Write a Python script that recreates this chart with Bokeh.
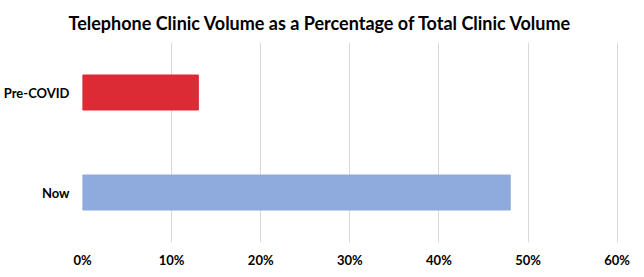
from bokeh.plotting import figure
from bokeh.models import FactorRange, Range1d, NumeralTickFormatter, FixedTicker
from bokeh.embed import file_html
from bokeh.resources import INLINE

categories = ["Now", "Pre-COVID"]
values = [0.48, 0.13]
colors = ["#8FAADC", "#DC2B35"]
x_ticks = [0, 0.1, 0.2, 0.3, 0.4, 0.5, 0.6]
title_text = "Telephone Clinic Volume as a Percentage of Total Clinic Volume"

p = figure(frame_width=536, frame_height=200, output_backend="svg", toolbar_location=None,
           y_range=FactorRange(*categories, range_padding=0),
           x_range=Range1d(0, 0.6015),
           min_border_left=80, min_border_right=12, min_border_top=36, min_border_bottom=25)

p.hbar(y=categories, right=values, height=0.35, left=0, fill_color=colors,
       line_color=colors, line_width=1)

p.title.text = title_text
p.title.align = "left"
p.title.offset = -14
p.title.text_font = "Lato"
p.title.text_font_size = "18px"
p.title.text_font_style = "bold"
p.title.text_color = "#000000"
p.title.standoff = 18

p.outline_line_color = None
p.background_fill_color = "white"
p.border_fill_color = "white"

p.xaxis.ticker = FixedTicker(ticks=x_ticks)
p.xaxis.formatter = NumeralTickFormatter(format="0%")
for ax in (p.xaxis, p.yaxis):
    ax.axis_line_color = None
    ax.major_tick_line_color = None
    ax.minor_tick_line_color = None
    ax.major_tick_out = 0
    ax.major_tick_in = 0
    ax.minor_tick_out = 0
    ax.major_label_text_font = "Lato"
    ax.major_label_text_font_size = "13px"
    ax.major_label_text_font_style = "bold"
    ax.major_label_text_color = "#000000"
p.xaxis.major_label_standoff = 9
p.yaxis.major_label_standoff = 13

p.xgrid.grid_line_color = "#D9D9D9"
p.xgrid.grid_line_width = 1
p.ygrid.grid_line_color = None

open("out.html", "w").write(file_html(p, INLINE))
